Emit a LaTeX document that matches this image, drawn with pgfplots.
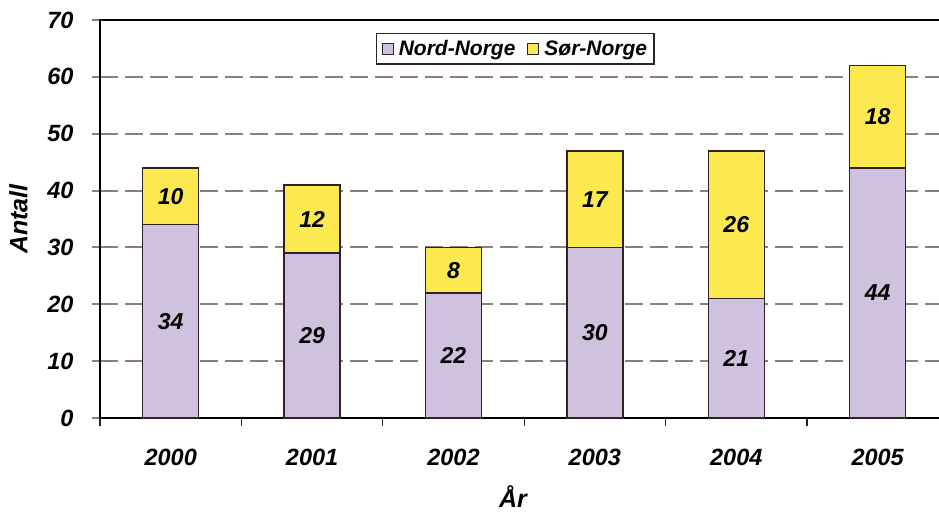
\documentclass[border=0pt]{standalone}
\usepackage{pgfplots}
\pgfplotsset{compat=1.18}
\usepackage{fontspec}
\setmainfont{Liberation Sans}
\definecolor{nord}{HTML}{CFC2DE}
\definecolor{sor}{HTML}{FBE94F}
\definecolor{edge}{HTML}{2E2226}
\definecolor{gridc}{HTML}{8C7F7B}
\begin{document}
\begin{tikzpicture}
\pgfplotsset{
  common/.style={
    scale only axis,
    width=841pt, height=398pt,
    xmin=-0.5, xmax=5.448,
    ymin=0, ymax=70,
    at={(0,0)}, anchor=south west,
  }
}
\begin{axis}[
  common,
  ybar stacked,
  bar width=0.396,
  axis line style={draw=black, line width=1.4pt},
  xtick={0,1,2,3,4,5},
  xticklabels={2000,2001,2002,2003,2004,2005},
  minor xtick={-0.5,0.5,1.5,2.5,3.5,4.5},
  major x tick style={draw=none},
  minor x tick style={draw=edge, line width=1.2pt},
  minor tick length=8pt,
  xtick pos=bottom,
  ytick={0,10,...,70},
  ytick pos=left,
  ytick style={draw=gridc, line width=2pt},
  major tick length=8pt,
  tick align=outside,
  ymajorgrids,
  grid style={draw=gridc, line width=2pt, dash pattern=on 18pt off 7pt},
  /pgf/number format/assume math mode=true,
  ticklabel style={font=\fontsize{23.5}{25}\selectfont\bfseries\itshape},
  xticklabel style={yshift=-20pt},
  yticklabel style={xshift=-15pt},
  ylabel={Antall},
  ylabel style={font=\fontsize{25}{27}\selectfont\bfseries\itshape, at={(axis description cs:-0.097,0.5)}, anchor=center},
  xlabel={År},
  xlabel style={font=\fontsize{25}{27}\selectfont\bfseries\itshape, at={(axis description cs:0.491,-0.198)}, anchor=center},
  legend style={at={(0.494,0.968)}, anchor=north, legend columns=2,
    draw=edge, line width=1.3pt, fill=white,
    font=\fontsize{21}{23}\selectfont\bfseries\itshape,
    inner xsep=5pt, inner ysep=5pt,
    /tikz/every odd column/.append style={column sep=3pt},
    /tikz/every even column/.append style={column sep=10pt}},
  legend image code/.code={\draw[#1, line width=1pt] (0pt,-5.5pt) rectangle (11pt,5.5pt);},
]
\addplot[fill=nord, draw=edge, line width=1.5pt] coordinates {(0,34) (1,29) (2,22) (3,30) (4,21) (5,44)};
\addlegendentry{Nord-Norge}
\addplot[fill=sor, draw=edge, line width=1.5pt] coordinates {(0,10) (1,12) (2,8) (3,17) (4,26) (5,18)};
\addlegendentry{Sør-Norge}
\end{axis}
\begin{axis}[
  common,
  hide axis,
  nodes near coords,
  point meta=explicit symbolic,
  every node near coord/.style={anchor=center, text=black, draw=none, fill=none,
    font=\fontsize{23}{25}\selectfont\bfseries\itshape},
]
\addplot[draw=none, mark=none] coordinates {(0,17)[34] (1,14.5)[29] (2,11)[22] (3,15)[30] (4,10.5)[21] (5,22)[44]};
\addplot[draw=none, mark=none] coordinates {(0,39)[10] (1,35)[12] (2,26)[8] (3,38.5)[17] (4,34)[26] (5,53)[18]};
\end{axis}
\pgfresetboundingbox
\useasboundingbox (-100pt,-94pt) rectangle (839pt,418pt);
\end{tikzpicture}
\end{document}
